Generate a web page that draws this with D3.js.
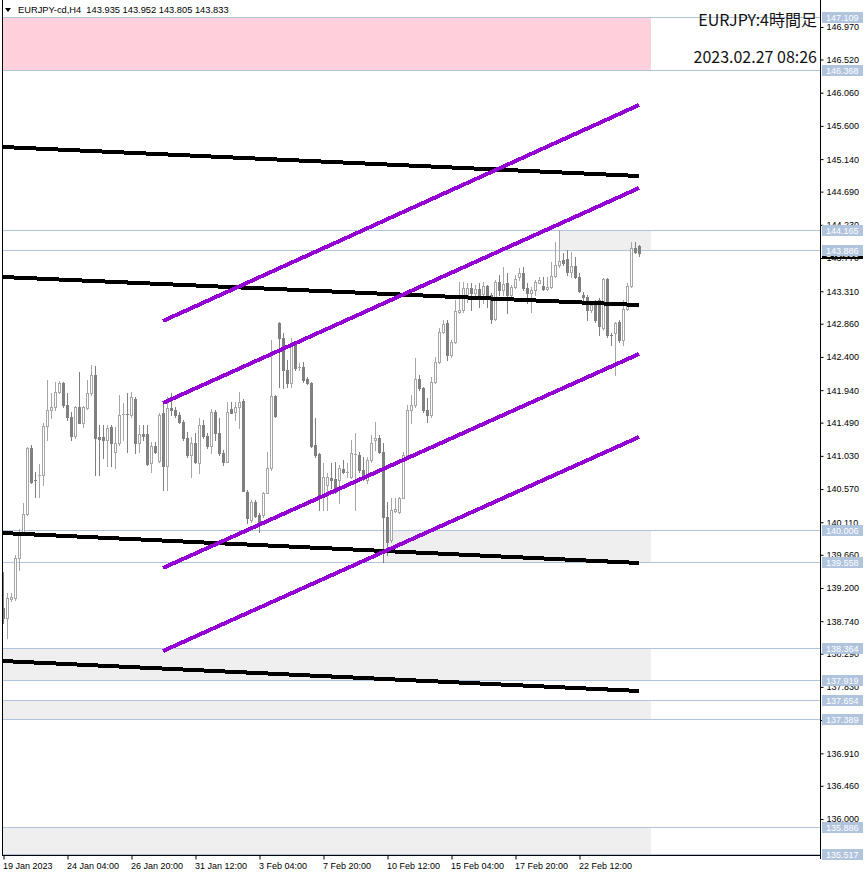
<!DOCTYPE html>
<html><head><meta charset="utf-8">
<script src="https://cdn.jsdelivr.net/npm/d3@7"></script>
<style>body{margin:0;background:#fff}svg{display:block}</style>
</head><body>
<svg id="c" width="866" height="876"></svg>
<script>
const symbolName = "EURJPY-cd,H4";
const headerValues = ["143.935","143.952","143.805","143.833"];
const titleLines = ["EURJPY:4時間足", "2023.02.27 08:26"];
const timeLabels = ["19 Jan 2023","24 Jan 04:00","26 Jan 20:00","31 Jan 12:00","3 Feb 04:00","7 Feb 20:00","10 Feb 12:00","15 Feb 04:00","17 Feb 20:00","22 Feb 12:00"];
const timeLabelBars = [0,16,32,48,64,80,96,112,128,144];
const priceTicks = ["146.970","146.520","146.060","145.600","145.140","144.690","144.230","143.770","143.310","142.860","142.400","141.940","141.490","141.030","140.570","140.110","139.660","139.200","138.740","138.290","137.830","137.370","136.910","136.460","136.000"];

const opens = [138.923,138.784,139.048,139.061,139.615,139.975,140.225,141.139,140.696,140.751,
140.765,141.444,141.665,141.707,141.914,142.039,141.735,141.568,141.305,141.707,
141.485,141.693,141.900,142.150,141.291,141.291,141.250,141.430,141.083,141.208,
141.596,141.610,141.596,141.818,141.208,141.333,141.333,140.932,141.167,140.959,
141.624,140.890,141.693,141.665,141.596,141.499,141.277,141.042,141.208,140.932,
141.458,141.305,141.167,141.637,141.347,141.069,140.945,141.679,141.637,141.707,
141.790,140.529,140.142,140.391,140.211,140.211,140.515,140.862,141.859,142.870,
142.662,142.219,142.039,142.565,142.247,142.261,142.095,142.039,141.181,141.056,
140.488,140.627,140.723,140.710,140.696,140.848,140.806,140.737,141.056,141.042,
140.834,140.696,140.973,141.250,141.277,141.083,140.183,139.865,140.266,140.253,
140.446,141.042,141.665,141.735,142.095,141.970,141.665,141.596,142.053,142.330,
142.746,142.870,142.427,142.607,143.022,143.050,143.258,143.355,143.286,143.341,
143.272,143.383,143.258,142.925,143.438,143.327,143.424,143.258,143.369,143.507,
143.563,143.355,143.286,143.327,143.424,143.383,143.341,143.369,143.521,143.674,
143.743,143.757,143.576,143.660,143.507,143.258,143.230,143.050,143.119,143.189,
142.801,143.480,142.704,142.732,142.884,142.635,143.064,143.383,143.909,143.935];
const highs = [139.421,139.130,139.130,139.657,140.017,140.377,141.153,141.181,140.806,140.918,
141.485,142.081,141.900,142.053,142.067,142.053,141.900,141.637,141.721,142.191,
141.721,142.081,142.289,142.275,141.458,141.458,141.458,141.458,141.430,141.873,
141.762,141.900,141.914,141.845,141.458,141.458,141.458,141.222,141.222,141.624,
141.762,141.845,141.900,141.707,141.637,141.527,141.360,141.291,141.347,141.554,
141.527,141.347,141.679,141.665,141.554,141.111,141.776,141.776,141.776,141.914,
141.818,140.557,140.419,140.419,140.239,140.529,141.083,142.635,141.873,142.884,
142.732,142.358,142.662,142.593,142.316,142.330,142.122,142.053,141.554,141.069,
140.932,140.792,140.932,140.945,140.904,140.973,140.932,141.250,141.347,141.083,
141.014,141.014,141.319,141.499,141.319,141.208,140.391,140.446,140.446,140.460,
141.083,141.735,141.873,142.385,142.150,141.984,141.831,142.122,142.399,142.801,
142.912,142.912,142.635,143.189,143.438,143.438,143.424,143.424,143.397,143.424,
143.438,143.397,143.286,143.466,143.535,143.646,143.563,143.397,143.535,143.632,
143.646,143.424,143.369,143.466,143.507,143.507,143.507,143.715,143.992,144.165,
143.840,143.881,143.854,143.784,143.563,143.299,143.258,143.161,143.189,143.217,
143.493,143.493,142.732,142.884,142.912,143.189,143.424,143.992,143.992,143.952];
const lows = [138.715,138.507,139.020,139.034,139.449,139.961,140.211,140.654,140.460,140.460,
140.627,141.250,141.554,141.665,141.900,141.707,141.527,141.250,141.277,141.485,
141.430,141.679,141.873,140.765,140.765,141.000,140.890,140.890,140.862,141.181,
141.250,141.083,141.568,141.069,141.083,141.250,140.904,140.806,141.069,140.945,
140.557,140.557,141.596,141.568,141.485,141.250,141.014,140.737,140.932,140.792,
141.277,141.139,141.069,141.250,141.042,140.904,140.945,141.624,141.527,141.416,
140.543,140.100,140.114,140.183,139.975,140.183,140.515,140.834,141.568,141.984,
141.970,141.984,141.984,142.219,142.219,142.053,142.025,141.153,141.014,140.280,
140.280,140.280,140.585,140.515,140.377,140.792,140.737,140.723,140.280,140.806,
140.696,140.654,140.945,141.111,141.069,139.558,139.657,139.837,140.253,140.239,
140.446,141.014,141.485,141.707,141.942,141.637,141.499,141.568,142.039,142.316,
142.732,142.358,142.399,142.593,143.008,143.022,143.161,143.050,143.231,143.092,
143.147,143.092,142.870,142.912,143.258,143.258,143.008,143.231,143.355,143.466,
143.327,143.147,143.022,143.258,143.424,143.327,143.327,143.355,143.507,143.646,
143.674,143.535,143.507,143.493,143.299,143.189,142.912,143.022,142.884,142.704,
142.773,142.677,142.565,142.150,142.607,142.565,143.050,143.369,143.840,143.805];
const closes = [138.784,139.061,139.075,139.615,139.975,140.225,141.139,140.668,140.682,140.765,
141.444,141.665,141.707,141.914,142.039,141.735,141.568,141.305,141.707,141.485,
141.707,141.900,142.150,141.277,141.263,141.250,141.416,141.208,141.208,141.596,
141.610,141.603,141.845,141.208,141.333,141.305,140.918,141.167,141.083,141.596,
140.890,141.693,141.665,141.596,141.499,141.277,141.042,141.208,140.945,141.458,
141.305,141.167,141.637,141.347,141.069,140.945,141.637,141.624,141.707,141.776,
140.543,140.169,140.391,140.197,140.100,140.515,140.862,141.859,141.582,142.662,
142.219,142.039,142.565,142.247,142.254,142.081,142.039,141.167,141.042,140.488,
140.737,140.737,140.696,140.529,140.862,140.806,140.806,141.069,141.056,140.834,
140.737,140.973,141.208,141.277,141.083,140.183,139.837,140.280,140.294,140.446,
141.042,141.665,141.735,142.095,141.970,141.665,141.596,142.053,142.330,142.746,
142.856,142.427,142.607,143.036,143.050,143.355,143.355,143.286,143.341,143.258,
143.383,143.258,142.925,143.438,143.327,143.410,143.258,143.369,143.480,143.563,
143.355,143.286,143.327,143.438,143.466,143.341,143.369,143.521,143.674,143.729,
143.702,143.576,143.660,143.507,143.314,143.230,143.050,143.119,142.912,142.828,
143.480,142.704,142.690,142.870,142.635,143.064,143.383,143.909,143.854,143.833];

const levelPrices = ["147.109","146.368","144.165","143.886","140.006","139.558","138.364","137.919","137.654","137.389","135.886","135.517"];
const zoneTops = [147.109,144.165,140.006,138.364,137.654,135.886];
const zoneBottoms = [146.368,143.886,139.558,137.919,137.389,135.517];
const zoneStartBars = [0,139,95,0,0,0];
const zoneEndBar = 162;
const zoneKinds = ["pink","gray","gray","gray","gray","gray"];
const blackStartBar = 0, blackEndBar = 159;
const blackStartPrices = [145.308,143.507,139.961,138.188];
const blackEndPrices = [144.906,143.119,139.546,137.773];
const purpleStartBar = 40, purpleEndBar = 159;
const purpleStartPrices = [142.898,141.762,139.477,138.327];
const purpleEndPrices = [145.890,144.740,142.441,141.291];
const bidPrice = 143.833;

const svg = d3.select("#c");
const W = 866, H = 876, axisX = 820, plotBottom = 855, plotLeft = 2;
const x = d3.scaleLinear().domain([0, 159]).range([3, 639]);
const y = d3.scaleLinear().domain([136.0, 146.97]).range([819, 27]);
const zoneColor = {pink: "#ffd1dc", gray: "#efefef"};
const bullColor = "#a6a6a6", bearColor = "#808080";
const levelColor = "#b0c4de";
const axisFont = "'Liberation Sans', Arial, sans-serif";

svg.append("rect").attr("width", W).attr("height", H).attr("fill", "#fff");

const plot = svg.append("g");
// zones
plot.selectAll("rect.zone").data(zoneTops).join("rect").attr("class", "zone")
  .attr("x", (d, i) => x(zoneStartBars[i]))
  .attr("y", d => y(d))
  .attr("width", (d, i) => x(zoneEndBar) - x(zoneStartBars[i]))
  .attr("height", (d, i) => y(zoneBottoms[i]) - y(d))
  .attr("fill", (d, i) => zoneColor[zoneKinds[i]])
  .attr("shape-rendering", "crispEdges");

// horizontal levels
plot.selectAll("line.level").data(levelPrices).join("line").attr("class", "level")
  .attr("x1", plotLeft).attr("x2", axisX)
  .attr("y1", d => Math.round(y(+d)) + 0.5).attr("y2", d => Math.round(y(+d)) + 0.5)
  .attr("stroke", levelColor).attr("stroke-width", 1);

// candles
const candles = plot.append("g").attr("shape-rendering", "crispEdges");
opens.forEach((o, i) => {
  const c = closes[i], h = highs[i], l = lows[i];
  const cx = Math.round(x(i));
  const bull = c >= o;
  const col = bull ? bullColor : bearColor;
  const top = Math.round(y(Math.max(o, c)));
  const bot = Math.round(y(Math.min(o, c)));
  candles.append("line").attr("x1", cx + 0.5).attr("x2", cx + 0.5)
    .attr("y1", Math.round(y(h))).attr("y2", Math.round(y(l)) + 1)
    .attr("stroke", col);
  if (bot - top < 2) {
    candles.append("rect").attr("x", cx - 1).attr("y", top).attr("width", 3).attr("height", Math.max(1, bot - top))
      .attr("fill", col);
  } else if (bull) {
    candles.append("rect").attr("x", cx - 0.5).attr("y", top + 0.5).attr("width", 2).attr("height", bot - top)
      .attr("fill", "#fff").attr("stroke", col).attr("stroke-width", 1);
  } else {
    candles.append("rect").attr("x", cx - 1).attr("y", top).attr("width", 3).attr("height", bot - top + 1)
      .attr("fill", col);
  }
});

// trend lines
plot.selectAll("line.black").data(blackStartPrices).join("line").attr("class", "black")
  .attr("x1", x(blackStartBar)).attr("x2", x(blackEndBar))
  .attr("y1", d => y(d)).attr("y2", (d, i) => y(blackEndPrices[i]))
  .attr("stroke", "#000").attr("stroke-width", 4).attr("shape-rendering", "crispEdges");
plot.selectAll("line.purple").data(purpleStartPrices).join("line").attr("class", "purple")
  .attr("x1", x(purpleStartBar)).attr("x2", x(purpleEndBar))
  .attr("y1", d => y(d)).attr("y2", (d, i) => y(purpleEndPrices[i]))
  .attr("stroke", "#9400d3").attr("stroke-width", 4).attr("shape-rendering", "crispEdges");

// title text
svg.selectAll("text.title").data(titleLines).join("text").attr("class", "title")
  .attr("x", 817).attr("y", (d, i) => i === 0 ? 26 : 63)
  .attr("text-anchor", "end")
  .attr("font-family", "'Noto Sans CJK JP', 'Noto Sans', sans-serif")
  .attr("font-size", 16).attr("fill", "#111")
  .text(d => d);

// header
svg.append("path").attr("d", "M5,8L11,8L8,12Z").attr("fill", "#000");
svg.append("text").attr("x", 18).attr("y", 13)
  .attr("font-family", axisFont).attr("font-size", 9.3)
  .style("white-space", "pre")
  .text(symbolName + "  " + headerValues.join(" "));

// frame
svg.append("line").attr("x1", plotLeft + 0.5).attr("x2", plotLeft + 0.5).attr("y1", 0).attr("y2", plotBottom + 1)
  .attr("stroke", "#000");
svg.append("line").attr("x1", plotLeft).attr("x2", axisX + 1).attr("y1", plotBottom + 0.5).attr("y2", plotBottom + 0.5)
  .attr("stroke", "#000");
svg.append("line").attr("x1", axisX + 0.5).attr("x2", axisX + 0.5).attr("y1", 0).attr("y2", plotBottom + 4)
  .attr("stroke", "#000");

// y axis
const yAxis = d3.axisRight(y).tickValues(priceTicks.map(Number))
  .tickFormat((d, i) => priceTicks[i]).tickSize(3).tickPadding(3);
const gy = svg.append("g").attr("transform", `translate(${axisX + 0.5},0)`).call(yAxis);
gy.select(".domain").remove();
gy.selectAll("text").attr("font-family", axisFont).attr("font-size", 9).attr("fill", "#000");

// x axis
const xAxis = d3.axisBottom(x).tickValues(timeLabelBars)
  .tickFormat((d, i) => timeLabels[i]).tickSize(4).tickPadding(3);
const gx = svg.append("g").attr("transform", `translate(0.5,${plotBottom + 0.5})`).call(xAxis);
gx.select(".domain").remove();
gx.selectAll("text").attr("text-anchor", "start").attr("x", -1)
  .attr("font-family", axisFont).attr("font-size", 9).attr("fill", "#000");

// bid label (black)
const bidG = svg.append("g");
bidG.append("rect").attr("x", axisX + 2).attr("y", Math.round(y(bidPrice)) - 5).attr("width", 41).attr("height", 11).attr("fill", "#000");
bidG.append("text").attr("x", axisX + 6).attr("y", Math.round(y(bidPrice)) + 3.5)
  .attr("font-family", axisFont).attr("font-size", 9).attr("fill", "#fff").text(bidPrice.toFixed(3));

// level labels
const lab = svg.selectAll("g.lab").data(levelPrices).join("g").attr("class", "lab");
lab.append("rect").attr("x", axisX + 2).attr("y", d => Math.round(y(+d)) - 5)
  .attr("width", 41).attr("height", 11).attr("fill", levelColor);
lab.append("text").attr("x", axisX + 6).attr("y", d => Math.round(y(+d)) + 3.5)
  .attr("font-family", axisFont).attr("font-size", 9).attr("fill", "#fff").text(d => d);
</script>
</body></html>
